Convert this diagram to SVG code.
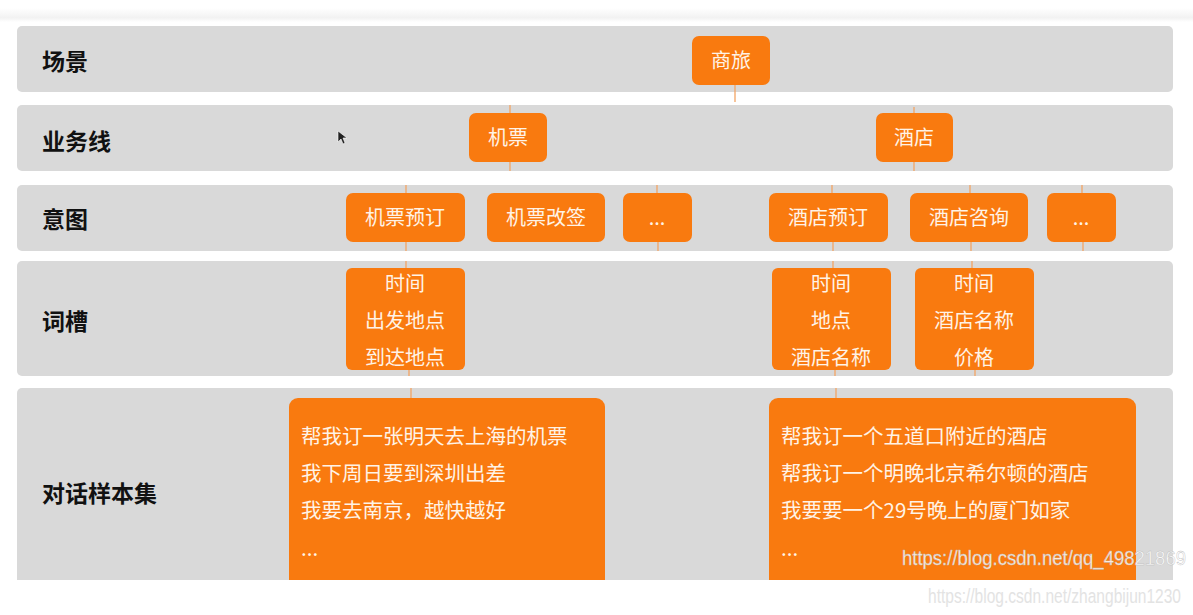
<svg xmlns="http://www.w3.org/2000/svg" width="1193" height="615" viewBox="0 0 1193 615">
<defs>
<linearGradient id="topShade" x1="0" y1="0" x2="0" y2="1">
<stop offset="0" stop-color="#ffffff"/>
<stop offset="0.7" stop-color="#f2f2f2"/>
<stop offset="1" stop-color="#ffffff"/>
</linearGradient>
<style>
.row{fill:#d9d9d9}
.lbl{font-family:"Noto Sans CJK SC","Liberation Sans",sans-serif;font-weight:bold;font-size:23px;fill:#111}
.box{fill:#f97a0f}
.t{font-family:"Noto Sans CJK SC","Liberation Sans",sans-serif;font-size:20px;fill:#fff3e6;text-anchor:middle}
.d{font-family:"Noto Sans CJK SC","Liberation Sans",sans-serif;font-size:20.5px;fill:#fff3e6}
.ln{stroke:#f3a463;stroke-width:1.3;fill:none}
.wm{font-family:"Liberation Sans",Arial,sans-serif;font-size:20px}
</style>
</defs>
<rect width="1193" height="615" fill="#ffffff"/>
<rect x="0" y="8" width="1193" height="14" fill="url(#topShade)"/>

<g id="rows">
<rect class="row" x="17" y="26" width="1156" height="66" rx="5"/>
<rect class="row" x="17" y="105" width="1156" height="66" rx="5"/>
<rect class="row" x="17" y="185" width="1156" height="66" rx="5"/>
<rect class="row" x="17" y="261" width="1156" height="115" rx="5"/>
<rect class="row" x="17" y="388" width="1156" height="220" rx="5"/>
</g>

<g id="labels">
<text class="lbl" x="42" y="70">场景</text>
<text class="lbl" x="42" y="150">业务线</text>
<text class="lbl" x="42" y="228">意图</text>
<text class="lbl" x="42" y="330">词槽</text>
<text class="lbl" x="42" y="502">对话样本集</text>
</g>

<g id="connectors">
<line class="ln" x1="735" y1="85" x2="735" y2="102"/>
<line class="ln" x1="510" y1="105" x2="510" y2="113"/>
<line class="ln" x1="510" y1="162" x2="510" y2="171"/>
<line class="ln" x1="914" y1="107" x2="914" y2="113"/>
<line class="ln" x1="914" y1="162" x2="914" y2="171"/>
<line class="ln" x1="406" y1="185" x2="406" y2="193"/>
<line class="ln" x1="406" y1="242" x2="406" y2="251"/>
<line class="ln" x1="657" y1="185" x2="657" y2="193"/>
<line class="ln" x1="658" y1="242" x2="658" y2="251"/>
<line class="ln" x1="832" y1="185" x2="832" y2="193"/>
<line class="ln" x1="833" y1="242" x2="833" y2="251"/>
<line class="ln" x1="970" y1="185" x2="970" y2="193"/>
<line class="ln" x1="971" y1="242" x2="971" y2="251"/>
<line class="ln" x1="1082" y1="185" x2="1082" y2="193"/>
<line class="ln" x1="1083" y1="242" x2="1083" y2="251"/>
<line class="ln" x1="406" y1="261" x2="406" y2="268"/>
<line class="ln" x1="833" y1="261" x2="833" y2="268"/>
<line class="ln" x1="972" y1="261" x2="972" y2="268"/>
<line class="ln" x1="409" y1="370" x2="409" y2="376"/>
<line class="ln" x1="835" y1="370" x2="835" y2="376"/>
<line class="ln" x1="975" y1="370" x2="975" y2="376"/>
<line class="ln" x1="411" y1="388" x2="411" y2="398"/>
<line class="ln" x1="836" y1="388" x2="836" y2="398"/>
</g>

<g id="n-shanglv"><rect class="box" x="692" y="36" width="78" height="49" rx="7"/><text class="t" x="731" y="68">商旅</text></g>
<g id="n-jipiao"><rect class="box" x="469" y="113" width="78" height="49" rx="7"/><text class="t" x="508" y="145">机票</text></g>
<g id="n-jiudian"><rect class="box" x="876" y="113" width="77" height="49" rx="7"/><text class="t" x="914" y="145">酒店</text></g>

<g id="n-jpyd"><rect class="box" x="346" y="193" width="119" height="49" rx="7"/><text class="t" x="405" y="225">机票预订</text></g>
<g id="n-jpgq"><rect class="box" x="487" y="193" width="118" height="49" rx="7"/><text class="t" x="546" y="225">机票改签</text></g>
<g id="n-more1"><rect class="box" x="623" y="193" width="69" height="49" rx="7"/><text class="t" x="657" y="225">...</text></g>
<g id="n-jdyd"><rect class="box" x="769" y="193" width="119" height="49" rx="7"/><text class="t" x="828" y="225">酒店预订</text></g>
<g id="n-jdzx"><rect class="box" x="910" y="193" width="118" height="49" rx="7"/><text class="t" x="969" y="225">酒店咨询</text></g>
<g id="n-more2"><rect class="box" x="1047" y="193" width="69" height="49" rx="7"/><text class="t" x="1081" y="225">...</text></g>

<g id="n-slot1"><rect class="box" x="346" y="268" width="119" height="102" rx="6"/>
<text class="t" x="405" y="291">时间</text><text class="t" x="405" y="328">出发地点</text><text class="t" x="405" y="365">到达地点</text></g>
<g id="n-slot2"><rect class="box" x="772" y="268" width="119" height="102" rx="6"/>
<text class="t" x="831" y="291">时间</text><text class="t" x="831" y="328">地点</text><text class="t" x="831" y="365">酒店名称</text></g>
<g id="n-slot3"><rect class="box" x="915" y="268" width="119" height="102" rx="6"/>
<text class="t" x="974" y="291">时间</text><text class="t" x="974" y="328">酒店名称</text><text class="t" x="974" y="365">价格</text></g>

<g id="n-dlg1"><rect class="box" x="289" y="398" width="316" height="210" rx="9"/>
<text class="d" x="301" y="444">帮我订一张明天去上海的机票</text>
<text class="d" x="301" y="481">我下周日要到深圳出差</text>
<text class="d" x="301" y="518">我要去南京，越快越好</text>
<text class="d" x="301" y="556">...</text></g>
<g id="n-dlg2"><rect class="box" x="769" y="398" width="367" height="210" rx="9"/>
<text class="d" x="781" y="444">帮我订一个五道口附近的酒店</text>
<text class="d" x="781" y="481">帮我订一个明晚北京希尔顿的酒店</text>
<text class="d" x="781" y="518">我要要一个29号晚上的厦门如家</text>
<text class="d" x="781" y="556">...</text></g>

<rect x="0" y="580" width="1193" height="35" fill="#ffffff"/>

<g id="cursor"><path d="M338 131 L338 142 L341 139 L343 144 L345 143 L343 138 L347 138 Z" fill="#222" stroke="#fff" stroke-width="0.6"/></g>

<g id="watermarks">
<text class="wm" x="902" y="565" textLength="284" lengthAdjust="spacingAndGlyphs" fill="#ffffff" fill-opacity="0.85" stroke="#bbbbbb" stroke-width="0.4">https://blog.csdn.net/qq_49821869</text>
<text class="wm" x="928" y="603" textLength="253" lengthAdjust="spacingAndGlyphs" fill="#e3e3e3" font-size="18">https://blog.csdn.net/zhangbijun1230</text>
</g>
</svg>
